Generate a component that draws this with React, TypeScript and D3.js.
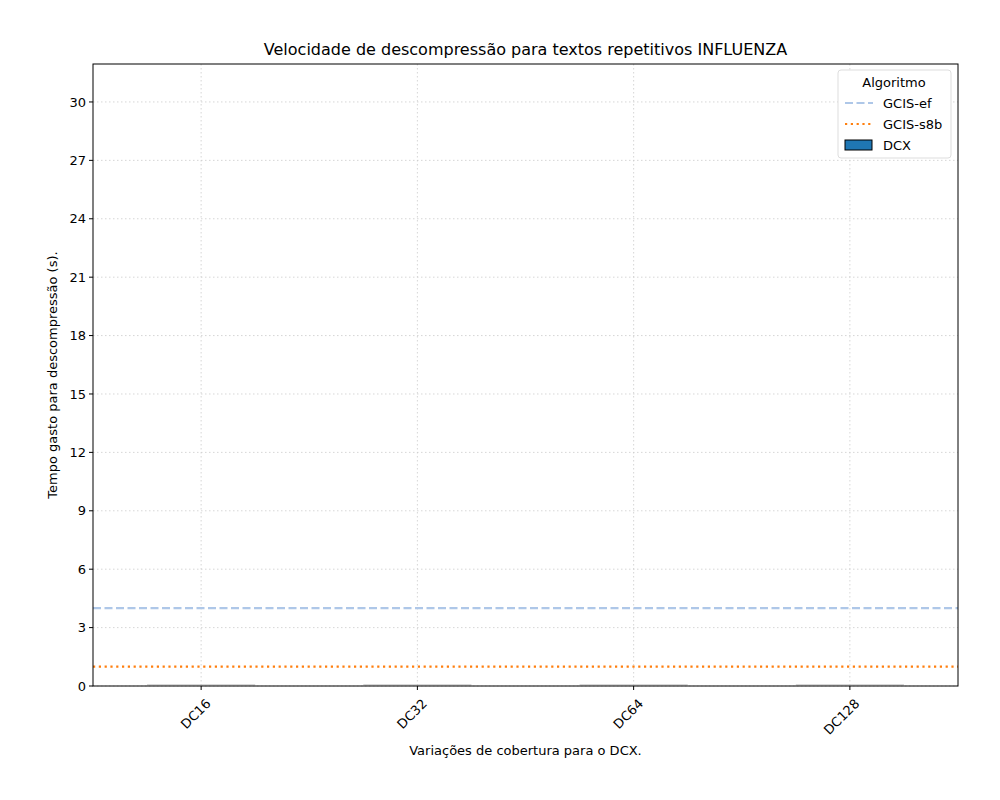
import React from "react";
import * as d3 from "d3";

const categories = ["DC16", "DC32", "DC64", "DC128"];
const dcxValues = [0.03, 0.03, 0.03, 0.03];
const gcisEf = 4.0;
const gcisS8b = 1.0;
const yTicks = [0, 3, 6, 9, 12, 15, 18, 21, 24, 27, 30];

export default function App() {
  const W = 1000, H = 800;
  const L = 93, R = 958, T = 64, B = 686;
  const x = d3.scaleBand().domain(categories).range([L, R]).paddingInner(0.5).paddingOuter(0.25);
  const y = d3.scaleLinear().domain([0, 31.95]).range([B, T]);
  const font = "DejaVu Sans, sans-serif";
  return (
    <svg width={W} height={H} style={{ position: "absolute", left: 0, top: 0 }} fontFamily={font}>
      <rect width={W} height={H} fill="#fff" />
      {yTicks.map(t => (
        <g key={t}>
          <line x1={L} x2={R} y1={y(t)} y2={y(t)} stroke="#ccc" strokeDasharray="1.5,2.5" strokeWidth={0.8} />
          <line x1={L - 4} x2={L} y1={y(t)} y2={y(t)} stroke="#000" />
          <text x={L - 7} y={y(t)} dy="0.35em" textAnchor="end" fontSize={13}>{t}</text>
        </g>
      ))}
      {categories.map(c => {
        const cx = x(c)! + x.bandwidth() / 2;
        return (
          <g key={c}>
            <line x1={cx} x2={cx} y1={T} y2={B} stroke="#ccc" strokeDasharray="1.5,2.5" strokeWidth={0.8} />
            <line x1={cx} x2={cx} y1={B} y2={B + 4} stroke="#000" />
            <text transform={`translate(${cx + 4},${B + 12}) rotate(-45)`} textAnchor="end" dy="0.7em" fontSize={13}>{c}</text>
          </g>
        );
      })}
      {categories.map((c, i) => (
        <rect key={c} x={x(c)} width={x.bandwidth()} y={y(dcxValues[i]) - 1} height={Math.max(1, B - y(dcxValues[i]))} fill="#bbb" />
      ))}
      <line x1={L} x2={R} y1={y(gcisEf)} y2={y(gcisEf)} stroke="#aec7e8" strokeWidth={2.2} strokeDasharray="8,3.5" />
      <line x1={L} x2={R} y1={y(gcisS8b)} y2={y(gcisS8b)} stroke="#ff7f0e" strokeWidth={2.2} strokeDasharray="2.2,3.6" />
      <rect x={L} y={T} width={R - L} height={B - T} fill="none" stroke="#000" />
      <text x={(L + R) / 2} y={55} textAnchor="middle" fontSize={16}>Velocidade de descompressão para textos repetitivos INFLUENZA</text>
      <text x={(L + R) / 2} y={755} textAnchor="middle" fontSize={13}>Variações de cobertura para o DCX.</text>
      <text transform={`translate(57,${(T + B) / 2}) rotate(-90)`} textAnchor="middle" fontSize={13}>Tempo gasto para descompressão (s).</text>
      <g>
        <rect x={838} y={70} width={113} height={88} rx={3} fill="#fff" stroke="#ddd" />
        <text x={894} y={87} textAnchor="middle" fontSize={13}>Algoritmo</text>
        <line x1={845} x2={873} y1={103} y2={103} stroke="#aec7e8" strokeWidth={2.2} strokeDasharray="8,3.5" />
        <text x={883} y={103} dy="0.35em" fontSize={13}>GCIS-ef</text>
        <line x1={845} x2={873} y1={124} y2={124} stroke="#ff7f0e" strokeWidth={2.2} strokeDasharray="2.2,3.6" />
        <text x={883} y={124} dy="0.35em" fontSize={13}>GCIS-s8b</text>
        <rect x={845} y={140} width={27} height={10} fill="#1f77b4" stroke="#000" />
        <text x={883} y={145} dy="0.35em" fontSize={13}>DCX</text>
      </g>
    </svg>
  );
}
